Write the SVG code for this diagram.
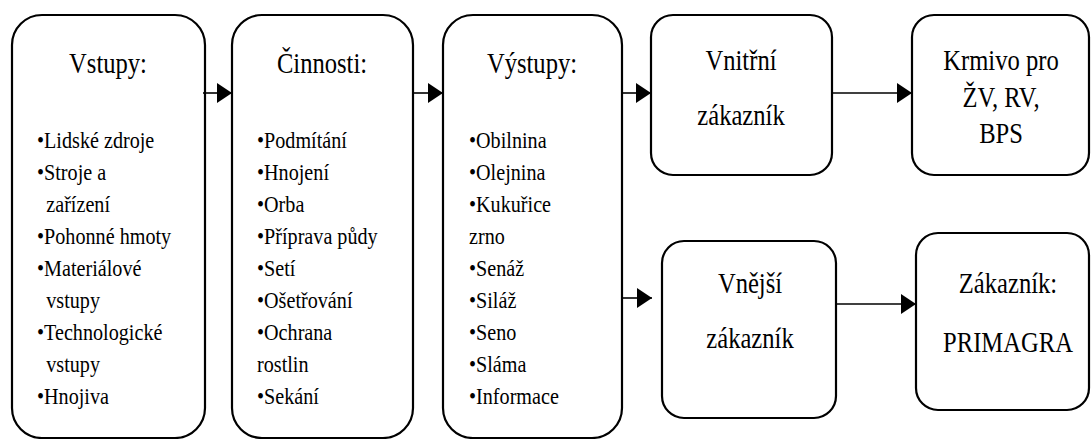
<svg xmlns="http://www.w3.org/2000/svg" width="1091" height="439" viewBox="0 0 1091 439">
  <style>
    .box { fill: #ffffff; stroke: #000000; stroke-width: 2.2; }
    .link { fill: none; stroke: #000000; stroke-width: 1.6; }
    text { font-family: "Liberation Serif", Tinos, FreeSerif, serif !important; fill: #000000; }
    .title { font-size: 30px; }
    .item { font-size: 24px; }
    .mid { text-anchor: middle; }
  </style>
  <defs>
    <marker id="head" markerUnits="userSpaceOnUse" markerWidth="16" markerHeight="22" refX="15" refY="10" orient="auto">
      <path d="M0,0 L15,10 L0,20 Z" fill="#000000"/>
    </marker>
  </defs>

  <rect width="1091" height="439" fill="#ffffff"/>

  <!-- inputs -->
  <g id="vstupy">
    <rect class="box" x="12" y="15" width="193" height="423" rx="30" ry="30"/>
    <g transform="matrix(0.82,0,0,1,108,0)">
      <text class="title mid" style="font-family:'Liberation Serif',Tinos,serif !important" x="0" y="73">Vstupy:</text>
    </g>
    <g transform="matrix(0.84,0,0,1,37,0)">
      <text class="item" style="font-family:'Liberation Serif',Tinos,serif !important" x="0" y="148">•Lidské zdroje</text>
      <text class="item" style="font-family:'Liberation Serif',Tinos,serif !important" x="0" y="180">•Stroje a</text>
      <text class="item" style="font-family:'Liberation Serif',Tinos,serif !important" x="11" y="212">zařízení</text>
      <text class="item" style="font-family:'Liberation Serif',Tinos,serif !important" x="0" y="244">•Pohonné hmoty</text>
      <text class="item" style="font-family:'Liberation Serif',Tinos,serif !important" x="0" y="276">•Materiálové</text>
      <text class="item" style="font-family:'Liberation Serif',Tinos,serif !important" x="11" y="308">vstupy</text>
      <text class="item" style="font-family:'Liberation Serif',Tinos,serif !important" x="0" y="340">•Technologické</text>
      <text class="item" style="font-family:'Liberation Serif',Tinos,serif !important" x="11" y="372">vstupy</text>
      <text class="item" style="font-family:'Liberation Serif',Tinos,serif !important" x="0" y="404">•Hnojiva</text>
    </g>
  </g>

  <!-- activities -->
  <g id="cinnosti">
    <rect class="box" x="232" y="15" width="181" height="423" rx="30" ry="30"/>
    <g transform="matrix(0.82,0,0,1,322,0)">
      <text class="title mid" style="font-family:'Liberation Serif',Tinos,serif !important" x="0" y="73">Činnosti:</text>
    </g>
    <g transform="matrix(0.84,0,0,1,257,0)">
      <text class="item" style="font-family:'Liberation Serif',Tinos,serif !important" x="0" y="148">•Podmítání</text>
      <text class="item" style="font-family:'Liberation Serif',Tinos,serif !important" x="0" y="180">•Hnojení</text>
      <text class="item" style="font-family:'Liberation Serif',Tinos,serif !important" x="0" y="212">•Orba</text>
      <text class="item" style="font-family:'Liberation Serif',Tinos,serif !important" x="0" y="244">•Příprava půdy</text>
      <text class="item" style="font-family:'Liberation Serif',Tinos,serif !important" x="0" y="276">•Setí</text>
      <text class="item" style="font-family:'Liberation Serif',Tinos,serif !important" x="0" y="308">•Ošetřování</text>
      <text class="item" style="font-family:'Liberation Serif',Tinos,serif !important" x="0" y="340">•Ochrana</text>
      <text class="item" style="font-family:'Liberation Serif',Tinos,serif !important" x="0" y="372">rostlin</text>
      <text class="item" style="font-family:'Liberation Serif',Tinos,serif !important" x="0" y="404">•Sekání</text>
    </g>
  </g>

  <!-- outputs -->
  <g id="vystupy">
    <rect class="box" x="443" y="15" width="179" height="423" rx="30" ry="30"/>
    <g transform="matrix(0.82,0,0,1,532,0)">
      <text class="title mid" style="font-family:'Liberation Serif',Tinos,serif !important" x="0" y="73">Výstupy:</text>
    </g>
    <g transform="matrix(0.84,0,0,1,469,0)">
      <text class="item" style="font-family:'Liberation Serif',Tinos,serif !important" x="0" y="148">•Obilnina</text>
      <text class="item" style="font-family:'Liberation Serif',Tinos,serif !important" x="0" y="180">•Olejnina</text>
      <text class="item" style="font-family:'Liberation Serif',Tinos,serif !important" x="0" y="212">•Kukuřice</text>
      <text class="item" style="font-family:'Liberation Serif',Tinos,serif !important" x="0" y="244">zrno</text>
      <text class="item" style="font-family:'Liberation Serif',Tinos,serif !important" x="0" y="276">•Senáž</text>
      <text class="item" style="font-family:'Liberation Serif',Tinos,serif !important" x="0" y="308">•Siláž</text>
      <text class="item" style="font-family:'Liberation Serif',Tinos,serif !important" x="0" y="340">•Seno</text>
      <text class="item" style="font-family:'Liberation Serif',Tinos,serif !important" x="0" y="372">•Sláma</text>
      <text class="item" style="font-family:'Liberation Serif',Tinos,serif !important" x="0" y="404">•Informace</text>
    </g>
  </g>

  <!-- internal customer -->
  <g id="vnitrni">
    <rect class="box" x="651" y="15" width="181" height="160" rx="22" ry="22"/>
    <g transform="matrix(0.82,0,0,1,741,0)">
      <text class="title mid" style="font-family:'Liberation Serif',Tinos,serif !important" x="0" y="70">Vnitřní</text>
      <text class="title mid" style="font-family:'Liberation Serif',Tinos,serif !important" x="0" y="125">zákazník</text>
    </g>
  </g>

  <!-- feed -->
  <g id="krmivo">
    <rect class="box" x="912" y="15" width="177" height="160" rx="22" ry="22"/>
    <g transform="matrix(0.82,0,0,1,1001,0)">
      <text class="title mid" style="font-family:'Liberation Serif',Tinos,serif !important" x="0" y="70">Krmivo pro</text>
      <text class="title mid" style="font-family:'Liberation Serif',Tinos,serif !important" x="0" y="107">ŽV, RV,</text>
      <text class="title mid" style="font-family:'Liberation Serif',Tinos,serif !important" x="0" y="143">BPS</text>
    </g>
  </g>

  <!-- external customer -->
  <g id="vnejsi">
    <rect class="box" x="662" y="241" width="174" height="177" rx="22" ry="22"/>
    <g transform="matrix(0.82,0,0,1,750,0)">
      <text class="title mid" style="font-family:'Liberation Serif',Tinos,serif !important" x="0" y="293">Vnější</text>
      <text class="title mid" style="font-family:'Liberation Serif',Tinos,serif !important" x="0" y="348">zákazník</text>
    </g>
  </g>

  <!-- customer -->
  <g id="zakaznik">
    <rect class="box" x="916" y="233" width="173" height="177" rx="22" ry="22"/>
    <g transform="matrix(0.82,0,0,1,1008,0)">
      <text class="title mid" style="font-family:'Liberation Serif',Tinos,serif !important" x="0" y="293">Zákazník:</text>
      <text class="title mid" style="font-family:'Liberation Serif',Tinos,serif !important" x="0" y="352">PRIMAGRA</text>
    </g>
  </g>

  <g id="connectors">
    <line class="link" x1="203" y1="93" x2="232" y2="93" marker-end="url(#head)"/>
    <line class="link" x1="413" y1="93" x2="443" y2="93" marker-end="url(#head)"/>
    <line class="link" x1="622" y1="93" x2="651" y2="93" marker-end="url(#head)"/>
    <line class="link" x1="622" y1="298" x2="652" y2="298" marker-end="url(#head)"/>
    <line class="link" x1="832" y1="93" x2="912" y2="93" marker-end="url(#head)"/>
    <line class="link" x1="836" y1="304" x2="916" y2="304" marker-end="url(#head)"/>
  </g>
</svg>
